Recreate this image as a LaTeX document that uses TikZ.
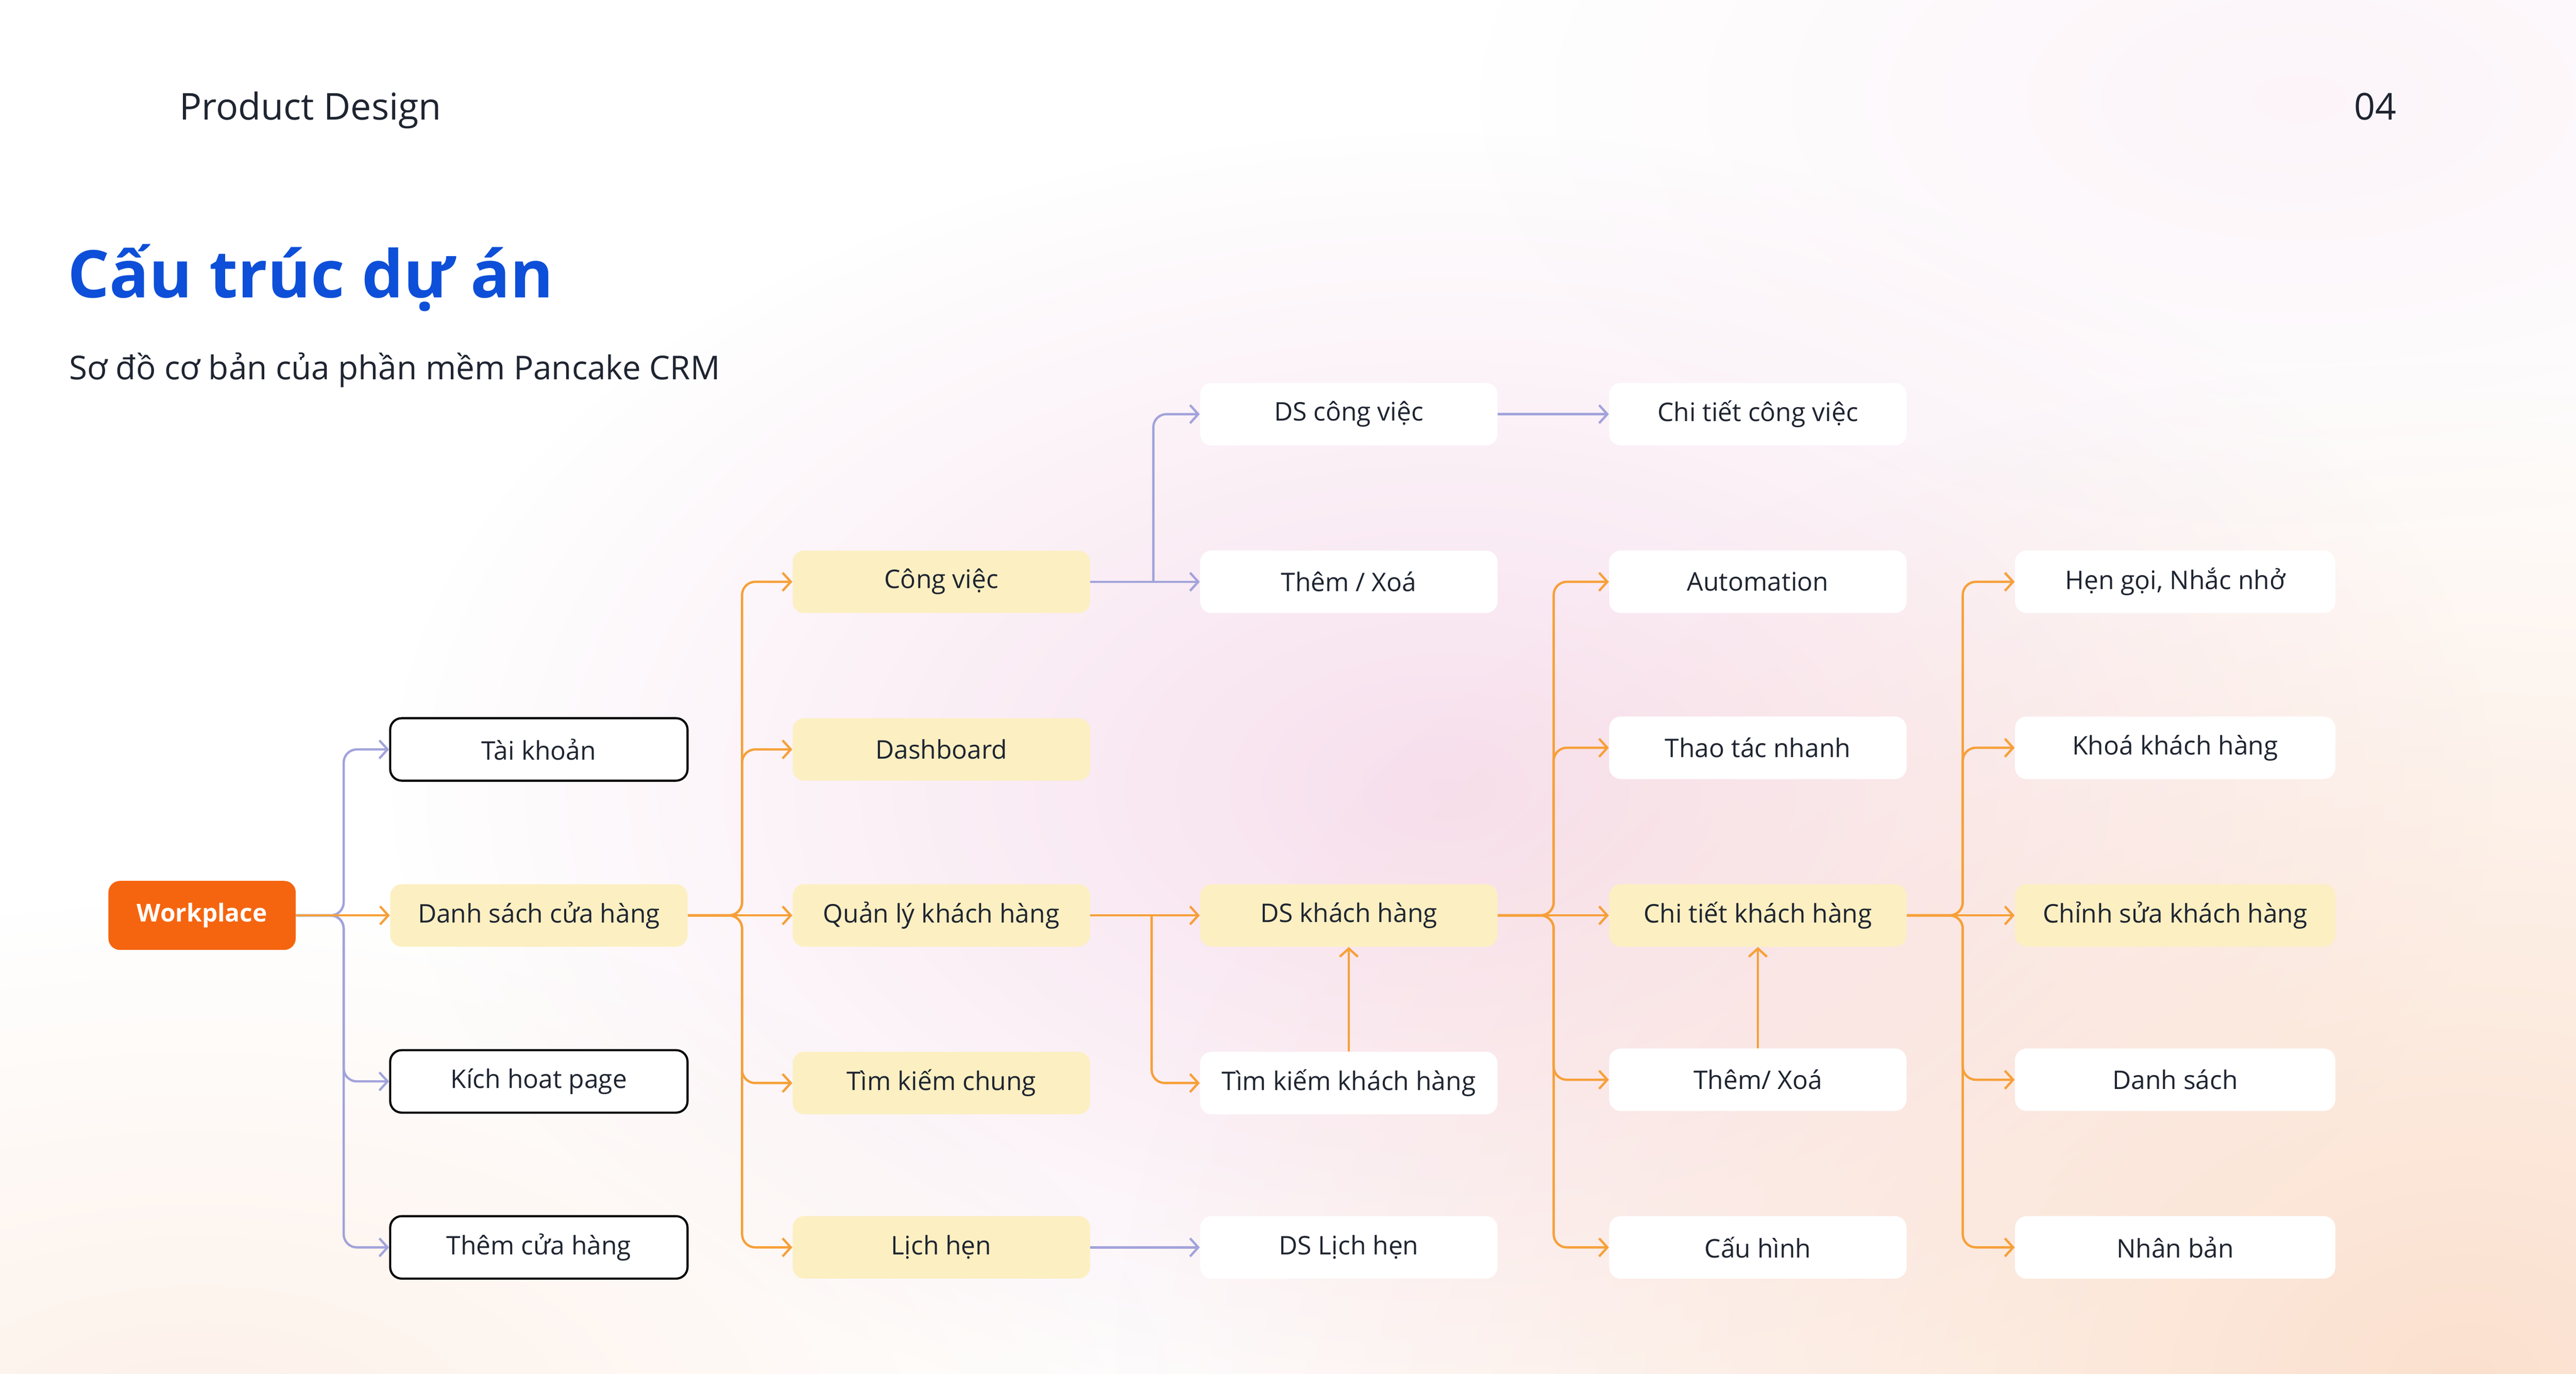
\documentclass[tikz,border=0pt]{standalone}
\usepackage{fontspec}
\setmainfont{Open Sans}
\usetikzlibrary{arrows.meta,fadings}

\definecolor{brandorange}{HTML}{F5650F}
\definecolor{boxyellow}{HTML}{FCEFC2}
\definecolor{lineorange}{HTML}{F6A039}
\definecolor{linepurple}{HTML}{A2A3DB}
\definecolor{titleblue}{HTML}{0D4FD8}
\definecolor{inkdark}{HTML}{1E2430}
\definecolor{pinkglow}{HTML}{F6DCEB}
\definecolor{peachglow}{HTML}{FAD6BE}

\tikzfading[name=glowfade, inner color=transparent!0, outer color=transparent!100]

\begin{document}
\begin{tikzpicture}[x=1pt,y=-1pt,
  box/.style={rounded corners=7pt, minimum width=181pt, minimum height=38pt,
    inner sep=0pt, text=inkdark, font=\fontsize{15.6}{18}\selectfont},
  plain/.style={box, fill=white},
  framed/.style={box, fill=white, draw=black, line width=1.3pt},
  hot/.style={box, fill=boxyellow},
  wide/.style={minimum width=195pt},
  brand/.style={box, fill=brandorange, text=white, minimum width=114pt,
    minimum height=42pt, font=\fontsize{15}{18}\selectfont\bfseries},
  link/.style={draw=lineorange, line width=1.4pt, rounded corners=8pt,
    -{Straight Barb[length=5pt,width=11pt]}},
  soft/.style={link, draw=linepurple},
]
% background
\useasboundingbox (0,0) rectangle (1568,836);
\fill[white] (0,0) rectangle (1568,836);
\begin{scope}
\clip (0,0) rectangle (1568,836);
\fill[pinkglow, fill opacity=0.9, path fading=glowfade] (880,480) ellipse (640 and 400);
\fill[peachglow, fill opacity=0.75, path fading=glowfade] (1500,840) ellipse (820 and 620);
\fill[peachglow, fill opacity=0.35, path fading=glowfade] (120,880) ellipse (600 and 330);
\fill[pinkglow, fill opacity=0.3, path fading=glowfade] (1400,60) ellipse (500 and 260);
\end{scope}

% header
\node[anchor=base west, inner sep=0pt, text=inkdark,
  font=\fontsize{22.5}{26}\selectfont] (topic) at (109,73) {Product Design};
\node[anchor=base east, inner sep=0pt, text=inkdark,
  font=\fontsize{22.5}{26}\selectfont] (pageno) at (1459,73) {04};
\node[anchor=base west, inner sep=0pt, text=titleblue,
  font=\fontsize{40}{48}\selectfont\bfseries] (title) at (41,181) {Cấu trúc dự án};
\node[anchor=base west, inner sep=0pt, text=inkdark,
  font=\fontsize{20}{24}\selectfont] (subtitle) at (42,231) {Sơ đồ cơ bản của phần mềm Pancake CRM};

% column 1
\node[brand] (work) at (123,557) {Workplace};
\node[framed] (acct) at (328,456) {Tài khoản};
\node[hot] (stores) at (328,557) {Danh sách cửa hàng};
\node[framed] (page) at (328,658) {Kích hoat page};
\node[framed] (addstore) at (328,759) {Thêm cửa hàng};

% column 2
\node[hot] (tasks) at (573,354) {Công việc};
\node[hot] (dash) at (573,456) {Dashboard};
\node[hot] (crm) at (573,557) {Quản lý khách hàng};
\node[hot] (search) at (573,659) {Tìm kiếm chung};
\node[hot] (sched) at (573,759) {Lịch hẹn};

% column 3
\node[plain] (tasklist) at (821,252) {DS công việc};
\node[plain] (taskedit) at (821,354) {Thêm / Xoá};
\node[hot] (custlist) at (821,557) {DS khách hàng};
\node[plain] (custsearch) at (821,659) {Tìm kiếm khách hàng};
\node[plain] (schedlist) at (821,759) {DS Lịch hẹn};

% column 4
\node[plain] (taskdet) at (1070,252) {Chi tiết công việc};
\node[plain] (auto) at (1070,354) {Automation};
\node[plain] (quick) at (1070,455) {Thao tác nhanh};
\node[hot] (custdet) at (1070,557) {Chi tiết khách hàng};
\node[plain] (custedit) at (1070,657) {Thêm/ Xoá};
\node[plain] (config) at (1070,759) {Cấu hình};

% column 5
\node[plain, wide] (remind) at (1324,354) {Hẹn gọi, Nhắc nhở};
\node[plain, wide] (lock) at (1324,455) {Khoá khách hàng};
\node[hot, wide] (modify) at (1324,557) {Chỉnh sửa khách hàng};
\node[plain, wide] (list) at (1324,657) {Danh sách};
\node[plain, wide] (clone) at (1324,759) {Nhân bản};

\coordinate (tfork) at (702,354);
\coordinate (cfork) at (701,557);

% connectors
\draw[soft] (work.east) -- ++(29,0) |- (acct.west);
\draw[soft] (work.east) -- ++(29,0) |- (page.west);
\draw[soft] (work.east) -- ++(29,0) |- (addstore.west);
\draw[link] (work.east) -- (stores.west);

\draw[link] (stores.east) -- ++(33,0) |- (tasks.west);
\draw[link] (stores.east) -- ++(33,0) |- (dash.west);
\draw[link] (stores.east) -- ++(33,0) |- (search.west);
\draw[link] (stores.east) -- ++(33,0) |- (sched.west);
\draw[link] (stores.east) -- (crm.west);

\draw[soft] (tasks.east) -- (taskedit.west);
\draw[soft] (tfork) |- (tasklist.west);
\draw[soft] (tasklist) -- (taskdet);
\draw[soft] (sched) -- (schedlist);

\draw[link] (crm.east) -- (custlist.west);
\draw[link] (cfork) |- (custsearch.west);
\draw[link] (custsearch) -- (custlist);

\draw[link] (custlist.east) -- ++(34,0) |- (auto.west);
\draw[link] (custlist.east) -- ++(34,0) |- (quick.west);
\draw[link] (custlist.east) -- ++(34,0) |- (custedit.west);
\draw[link] (custlist.east) -- ++(34,0) |- (config.west);
\draw[link] (custlist) -- (custdet);
\draw[link] (custedit) -- (custdet);

\draw[link] (custdet.east) -- ++(34,0) |- (remind.west);
\draw[link] (custdet.east) -- ++(34,0) |- (lock.west);
\draw[link] (custdet.east) -- ++(34,0) |- (list.west);
\draw[link] (custdet.east) -- ++(34,0) |- (clone.west);
\draw[link] (custdet) -- (modify);
\end{tikzpicture}
\end{document}
